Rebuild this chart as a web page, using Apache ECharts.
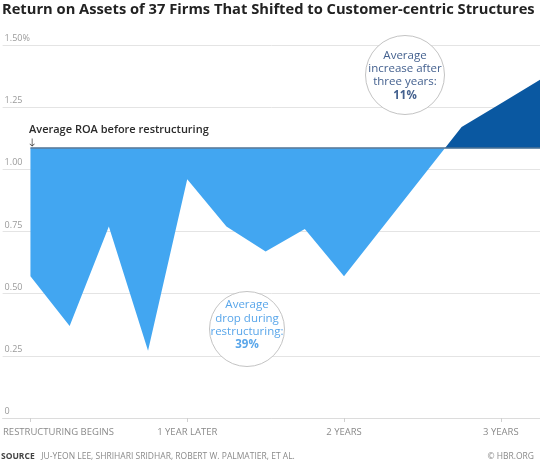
<!DOCTYPE html>
<html>
<head>
<meta charset="utf-8">
<script src="https://cdn.jsdelivr.net/npm/echarts@6/dist/echarts.min.js"></script>
<style>
  html, body { margin: 0; padding: 0; background: #fff; }
  #chart { width: 540px; height: 462px; }
</style>
</head>
<body>
<div id="chart"></div>
<script>
// Data (quarters since restructuring began)
const quarters = [0, 1, 2, 3, 4, 5, 6, 7, 8, 9, 10, 11, 12, 13];
const roa = [0.57, 0.37, 0.77, 0.27, 0.96, 0.77, 0.67, 0.76, 0.57, 0.77, 0.97, 1.17, 1.265, 1.36];
const baseline = 1.085; // Average ROA before restructuring
const yTickValues = [0, 0.25, 0.5, 0.75, 1, 1.25, 1.5];
const xTickPositions = [0, 4, 8, 12];
const xTickLabels = ['RESTRUCTURING BEGINS', '1 YEAR LATER', '2 YEARS', '3 YEARS'];

const LIGHT = '#42a6f1';
const DARK = '#0a58a1';
const FONT = '"Open Sans", "Lato", sans-serif';

const chart = echarts.init(document.getElementById('chart'), null, { renderer: 'canvas' });

const option = {
  animation: false,
  backgroundColor: '#fff',
  grid: { left: 0, right: 0, top: 45, bottom: 44, containLabel: false },
  xAxis: {
    type: 'value',
    min: -0.71,
    max: 13,
    splitLine: { show: false },
    axisLine: { show: true, lineStyle: { color: '#dcdcdc', width: 1 } },
    axisTick: {
      show: true,
      customValues: xTickPositions,
      length: 4,
      lineStyle: { color: '#d0d0d0' }
    },
    axisLabel: {
      show: true,
      customValues: xTickPositions,
      margin: 9,
      color: '#8a8a8a',
      fontFamily: FONT,
      fontSize: 9.5,
      formatter: function (v) {
        const i = xTickPositions.indexOf(v);
        if (i === 0) return '{first|' + xTickLabels[0] + '}';
        return i >= 0 ? xTickLabels[i] : '';
      },
      rich: {
        first: { color: '#8a8a8a', fontFamily: FONT, fontSize: 9.5, padding: [0, 0, 0, 56] }
      }
    }
  },
  yAxis: {
    type: 'value',
    min: 0,
    max: 1.5,
    interval: 0.25,
    axisLine: { show: false },
    axisTick: { show: false },
    splitLine: { show: true, lineStyle: { color: '#e4e4e4', width: 1 } },
    axisLabel: {
      inside: true,
      margin: 2,
      verticalAlign: 'bottom',
      padding: [0, 0, 2, 0],
      color: '#9a9a9a',
      fontFamily: FONT,
      fontSize: 9,
      formatter: function (v) {
        if (v === 1.5) return '1.50%';
        if (v === 0) return '0';
        return v.toFixed(2);
      }
    }
  },
  series: [
    {
      type: 'line',
      data: quarters.map((q, i) => [q, roa[i]]),
      symbol: 'none',
      lineStyle: { width: 0 },
      areaStyle: { origin: baseline, opacity: 1, color: LIGHT },
      silent: true,
      z: 2,
      markLine: {
        silent: true,
        symbol: ['none', 'none'],
        label: { show: false },
        lineStyle: { color: '#4e7295', width: 1.5, type: 'solid' },
        data: [[{ coord: [quarters[0], baseline] }, { coord: [quarters[quarters.length - 1], baseline] }]]
      }
    }
  ],
  graphic: [
    {
      type: 'text', left: 2, top: 2, z: 100,
      style: { text: 'Return on Assets of 37 Firms That Shifted to Customer-centric Structures', font: 'bold 14.7px ' + FONT, fill: '#222' }
    },
    {
      type: 'text', x: 29, y: 130, z: 100,
      style: { text: 'Average ROA before restructuring', font: '600 11px ' + FONT, fill: '#2b2b2b', textVerticalAlign: 'middle' }
    },
    {
      type: 'text', x: 32, y: 142, z: 100,
      style: { text: '↓', font: '9px ' + FONT, fill: '#333', textAlign: 'center', textVerticalAlign: 'middle' }
    },
    {
      type: 'circle', z: 100,
      shape: { cx: 405, cy: 75, r: 39.5 },
      style: { fill: '#fff', stroke: '#c4c4c4', lineWidth: 1 }
    },
    {
      type: 'text', x: 405, y: 75.5, z: 101,
      style: {
        text: 'Average\nincrease after\nthree years:\n{b|11%}',
        font: '11.5px ' + FONT, fill: '#44618f', textAlign: 'center', textVerticalAlign: 'middle', lineHeight: 13.3,
        rich: { b: { font: 'bold 11.5px ' + FONT, fill: '#44618f', lineHeight: 13.3 } }
      }
    },
    {
      type: 'circle', z: 100,
      shape: { cx: 247, cy: 329, r: 37.5 },
      style: { fill: '#fff', stroke: '#c4c4c4', lineWidth: 1 }
    },
    {
      type: 'text', x: 247, y: 325, z: 101,
      style: {
        text: 'Average\ndrop during\nrestructuring:\n{b|39%}',
        font: '11.5px ' + FONT, fill: '#59a6ea', textAlign: 'center', textVerticalAlign: 'middle', lineHeight: 13.3,
        rich: { b: { font: 'bold 11.5px ' + FONT, fill: '#59a6ea', lineHeight: 13.3 } }
      }
    },
    {
      type: 'text', x: 1, y: 457, z: 100,
      style: {
        text: '{s|SOURCE}  {n|JU-YEON LEE, SHRIHARI SRIDHAR, ROBERT W. PALMATIER, ET AL.}',
        textVerticalAlign: 'middle',
        rich: {
          s: { font: 'bold 8.5px ' + FONT, fill: '#444' },
          n: { font: '8.5px ' + FONT, fill: '#8a8a8a' }
        }
      }
    },
    {
      type: 'text', x: 534, y: 457, z: 100,
      style: { text: '© HBR.ORG', font: '8.5px ' + FONT, fill: '#8a8a8a', textAlign: 'right', textVerticalAlign: 'middle' }
    }
  ]
};

chart.setOption(option);

// Split the area colour at the baseline: light below, dark above (global pixel gradient)
const baseY = chart.convertToPixel({ yAxisIndex: 0 }, baseline);
const H = chart.getHeight();
const off = baseY / H;
chart.setOption({
  series: [{
    areaStyle: {
      color: new echarts.graphic.LinearGradient(0, 0, 0, H, [
        { offset: 0, color: DARK },
        { offset: off, color: DARK },
        { offset: off, color: LIGHT },
        { offset: 1, color: LIGHT }
      ], true)
    }
  }]
});
</script>
</body>
</html>
